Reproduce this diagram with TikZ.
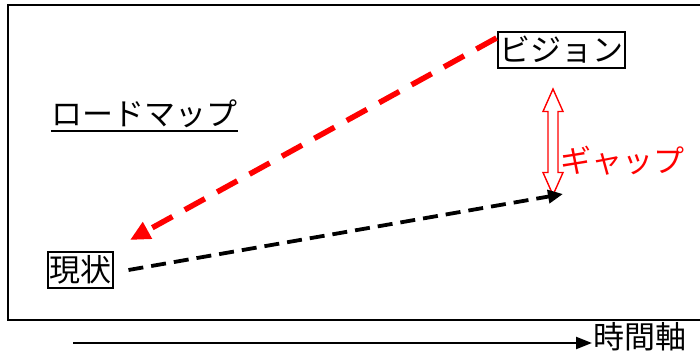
\documentclass[tikz,border=0pt]{standalone}
\usepackage{fontspec}
\setmainfont{Noto Sans CJK JP}
\usetikzlibrary{arrows.meta,shapes.arrows}
\begin{document}
\begin{tikzpicture}[x=1pt,y=-1pt,
  label/.style={font=\fontsize{31}{36}\selectfont, inner sep=1pt},
  boxed/.style={label, draw, line width=2pt, inner xsep=1.5pt, inner ysep=4pt},
  plan/.style={red, line width=5.5pt, dash pattern=on 23pt off 14pt, -{Triangle[length=20pt,width=18pt]}},
  trend/.style={black, line width=3.8pt, dash pattern=on 15pt off 8pt, -{Triangle[length=15pt,width=13pt]}},
  gapmark/.style={double arrow, draw=red, fill=white, line width=1.4pt, inner sep=4.3pt,
    double arrow head extend=5pt, double arrow tip angle=48, minimum height=106pt, rotate=90}]
  \useasboundingbox (0,0) rectangle (700,352);
  \draw[line width=2pt] (8,5) rectangle (712,320);
  \node[boxed] (vision) at (561,50) {ビジョン};
  \node[boxed] (genjo) at (80,270) {現状};
  \node[label] (roadmap) at (144,114) {ロードマップ};
  \draw[line width=2.2pt] (roadmap.south west) ++(1,2) coordinate (ul) -- (roadmap.south east |- ul);
  \coordinate (past) at (130,240);
  \coordinate (future) at (563,194);
  \node[gapmark] (gap) at (553,142) {};
  \node[label, red, anchor=west] (gaptext) at (559,161) {ギャップ};
  \draw[plan] ([yshift=12pt]vision.west) -- (past);
  \draw[trend] ([xshift=15pt]genjo.east) -- (future);
  \coordinate (t0) at (73,343);
  \node[label, anchor=west] (axis) at (592,337) {時間軸};
  \draw[line width=2.2pt, -{Triangle[length=16pt,width=12pt]}] (t0) -- (axis.west |- t0);
\end{tikzpicture}
\end{document}
